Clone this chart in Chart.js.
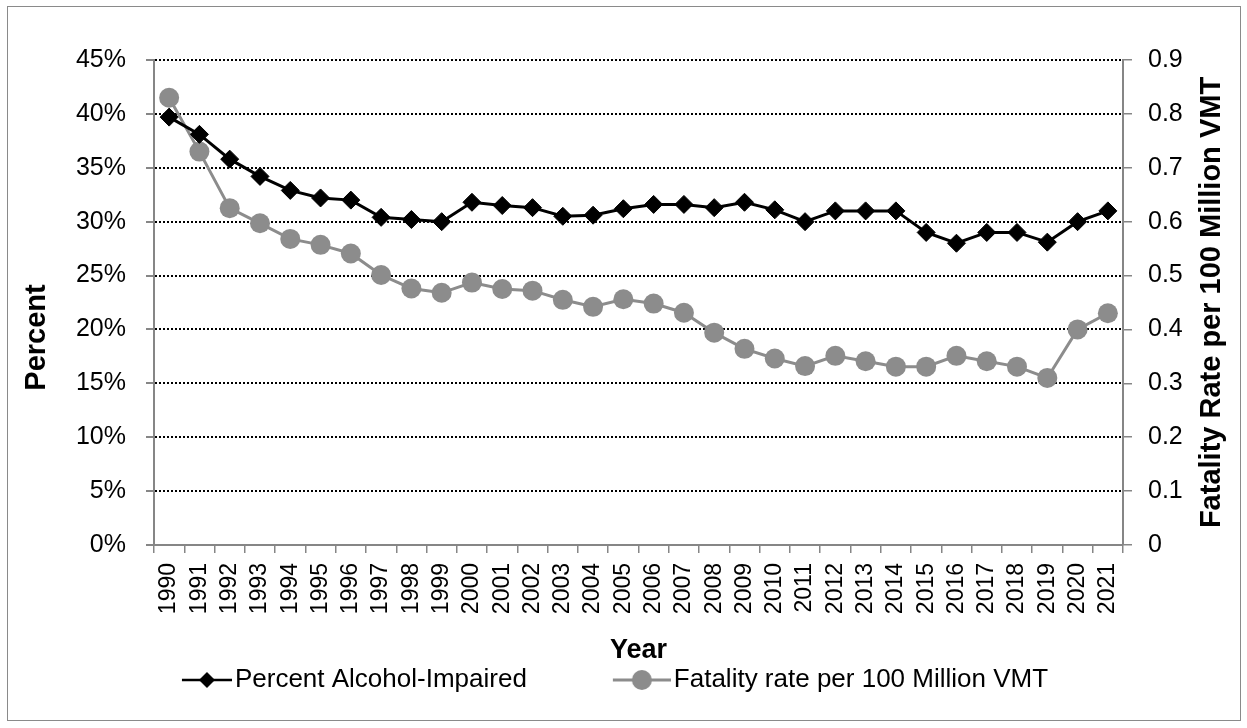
<!DOCTYPE html>
<html>
<head>
<meta charset="utf-8">
<script src="https://cdn.jsdelivr.net/npm/chart.js@4/dist/chart.umd.min.js"></script>
<style>
  body { margin: 0; background: #fff; }
  #wrap { position: absolute; left: 7px; top: 6px; border: 1px solid #8a8a8a; width: 1232px; height: 713px; }
</style>
</head>
<body>
<div id="wrap"><canvas id="grafico" width="1232" height="713"></canvas></div>
<script>
// categorias y series
const years = ["1990","1991","1992","1993","1994","1995","1996","1997","1998","1999",
  "2000","2001","2002","2003","2004","2005","2006","2007","2008","2009",
  "2010","2011","2012","2013","2014","2015","2016","2017","2018","2019","2020","2021"]

const alcoholPct = [39.7, 38.1, 35.8, 34.2, 32.9, 32.2, 32.0, 30.4, 30.2, 30.0,
  31.8, 31.5, 31.3, 30.5, 30.6, 31.2, 31.6, 31.6, 31.3, 31.8,
  31.1, 30.0, 31.0, 31.0, 31.0, 29.0, 28.0, 29.0, 29.0, 28.1, 30.0, 31.0]

const fatalityRate = [0.83, 0.73, 0.625, 0.597, 0.568, 0.557, 0.541, 0.501, 0.476, 0.468,
  0.487, 0.475, 0.472, 0.455, 0.442, 0.456, 0.448, 0.431, 0.394, 0.364,
  0.346, 0.332, 0.351, 0.341, 0.331, 0.331, 0.351, 0.341, 0.331, 0.310, 0.400, 0.430]

const seriesNames = ["Percent Alcohol-Impaired", "Fatality rate per 100 Million VMT"]
const pctTicks = [0, 45, 5]
const rateTicks = [0, 0.9, 0.1]

const gris = "#8c8c8c"
const ejeGris = "#868686"
const fuente = "'Liberation Sans', Arial, sans-serif"
Chart.defaults.font.family = fuente
Chart.defaults.color = "#000"

// icono de leyenda: linea con marcador (parte izquierda transparente)
function iconoLeyenda(ancho, largo, color, grosor, forma) {
  const c = document.createElement("canvas")
  c.width = ancho
  c.height = 24
  const g = c.getContext("2d")
  g.strokeStyle = color
  g.fillStyle = color
  g.lineWidth = grosor
  g.beginPath()
  g.moveTo(ancho - largo, 12)
  g.lineTo(ancho, 12)
  g.stroke()
  const cx = ancho - largo / 2
  g.beginPath()
  if (forma === "diamond") {
    g.moveTo(cx - 8, 12); g.lineTo(cx, 4); g.lineTo(cx + 8, 12); g.lineTo(cx, 20)
  } else {
    g.arc(cx, 12, 10, 0, Math.PI * 2)
  }
  g.closePath()
  g.fill()
  return c
}

const anchoCaja = 134
const iconos = [
  iconoLeyenda(anchoCaja + 20, 50, "#000", 2.5, "diamond"),
  iconoLeyenda(anchoCaja + 20, 58, gris, 3, "circle")
]

// titulos de los ejes verticales, ambos leidos de abajo hacia arriba
function tituloVertical(ctx, texto, x, y) {
  ctx.save()
  ctx.translate(x, y)
  ctx.rotate(-Math.PI / 2)
  ctx.font = "bold 29px " + fuente
  ctx.fillStyle = "#000"
  ctx.textAlign = "center"
  ctx.textBaseline = "middle"
  ctx.fillText(texto, 0, 0)
  ctx.restore()
}

const titulos = {
  id: "titulos",
  afterLayout(chart) {
    // la leyenda se centra un poco a la izquierda, como en el original
    chart.legend.right -= 112
  },
  afterDraw(chart) {
    const {ctx, chartArea} = chart
    const medio = (chartArea.top + chartArea.bottom) / 2
    tituloVertical(ctx, "Percent", 29, medio + 35)
    tituloVertical(ctx, "Fatality Rate per 100 Million VMT", chart.width - 28, medio)
  }
}

const ctx = document.querySelector("#grafico").getContext("2d")

const lineChart = new Chart(ctx, {
  type: "line",
  data: {
    labels: years,
    datasets: [
      {
        label: seriesNames[0],
        data: alcoholPct,
        yAxisID: "y",
        borderColor: "#000",
        backgroundColor: "#000",
        borderWidth: 3,
        pointStyle: "rectRot",
        pointRadius: 9,
        pointBorderWidth: 1,
        tension: 0
      },
      {
        label: seriesNames[1],
        data: fatalityRate,
        yAxisID: "y1",
        borderColor: gris,
        backgroundColor: gris,
        borderWidth: 3,
        pointStyle: "circle",
        pointRadius: 10,
        pointBorderWidth: 0,
        tension: 0
      }
    ]
  },
  options: {
    responsive: false,
    animation: false,
    layout: { padding: { top: 53, right: 0, bottom: 17, left: 0 } },
    plugins: {
      tooltip: { enabled: false },
      legend: {
        position: "bottom",
        labels: {
          usePointStyle: true,
          pointStyleWidth: anchoCaja,
          padding: 0,
          font: { size: 26 },
          color: "#000",
          generateLabels: (chart) => chart.data.datasets.map((ds, i) => ({
            text: ds.label,
            pointStyle: iconos[i],
            fillStyle: ds.borderColor,
            strokeStyle: ds.borderColor,
            lineWidth: 0,
            hidden: false,
            datasetIndex: i
          }))
        }
      }
    },
    scales: {
      x: {
        offset: true,
        afterFit: (scale) => { scale.height = 122 },
        grid: { offset: true, drawOnChartArea: false, tickLength: 8, tickColor: ejeGris, lineWidth: 1.5 },
        border: { color: ejeGris, width: 2 },
        ticks: { autoSkip: false, maxRotation: 90, minRotation: 90, padding: 10, font: { size: 23 } },
        title: { display: true, text: "Year", font: { size: 27, weight: "bold" }, padding: { top: 0, bottom: 0 } }
      },
      y: {
        position: "left",
        min: pctTicks[0],
        max: pctTicks[1],
        afterFit: (scale) => { scale.width = 146 },
        grid: {
          color: (c) => c.tick && c.tick.value === 0 ? "rgba(0,0,0,0)" : "#000",
          lineWidth: 2,
          tickLength: 8,
          tickColor: ejeGris
        },
        border: { color: ejeGris, width: 2, dash: [2, 2] },
        ticks: { stepSize: pctTicks[2], padding: 20, font: { size: 25 }, callback: (v) => v + "%" }
      },
      y1: {
        position: "right",
        min: rateTicks[0],
        max: rateTicks[1],
        afterFit: (scale) => { scale.width = 117 },
        grid: { drawOnChartArea: false, tickLength: 9, tickColor: ejeGris, lineWidth: 1.5 },
        border: { color: ejeGris, width: 2 },
        ticks: { stepSize: rateTicks[2], padding: 16, font: { size: 25 }, callback: (v) => String(Math.round(v * 10) / 10) }
      }
    }
  },
  plugins: [titulos]
})
</script>
</body>
</html>
